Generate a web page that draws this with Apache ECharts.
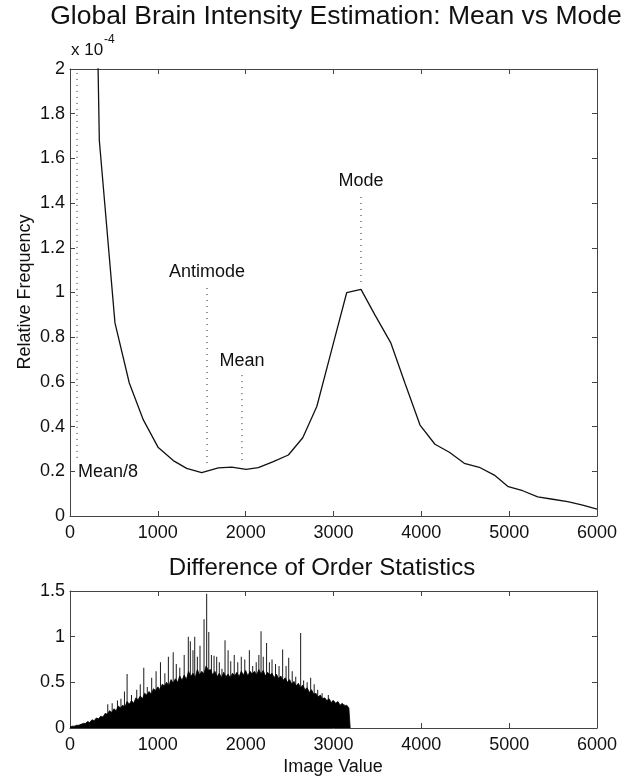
<!DOCTYPE html>
<html>
<head>
<meta charset="utf-8">
<script src="https://cdn.jsdelivr.net/npm/echarts@6/dist/echarts.min.js"></script>
<style>html,body{margin:0;padding:0;background:#fff}#c{width:631px;height:778px}</style>
</head>
<body>
<div id="c"></div>
<script>
// ---- Top panel: relative frequency (units of 1e-4) ----
const curveX = [165, 334, 512, 675, 835, 1005, 1176, 1328, 1499, 1689, 1841, 2004, 2144, 2315, 2486, 2650, 2810, 2979, 3150, 3313, 3473, 3651, 3814, 3985, 4155, 4319, 4489, 4660, 4831, 4990, 5154, 5325, 5495, 5666, 5837, 6000];
const curveY = [5.5, 1.68, 0.864, 0.595, 0.43, 0.306, 0.248, 0.213, 0.194, 0.215, 0.219, 0.209, 0.216, 0.243, 0.273, 0.35, 0.49, 0.743, 0.999, 1.014, 0.899, 0.776, 0.594, 0.407, 0.321, 0.285, 0.236, 0.218, 0.183, 0.131, 0.113, 0.086, 0.075, 0.064, 0.049, 0.031];

// Markers (dotted lines with labels)
const markerNames = ['Mean/8', 'Antimode', 'Mean', 'Mode'];
const markerX = [80, 1560, 1958, 3313];
const markerTop = [2.0, 1.04, 0.64, 1.445];
const markerBottom = [0.26, 0.237, 0.25, 1.047];
const markerLabelY = [0.197, 1.04, 0.64, 1.445];

// ---- Bottom panel: difference of order statistics ----
const histStep = 25;
const histBase = [
  0.01, 0.02, 0.02, 0.03,  0.03, 0.04, 0.05, 0.05,  0.07, 0.06, 0.09, 0.08,  0.11, 0.10, 0.13, 0.12,
  0.16, 0.15, 0.19, 0.17,  0.21, 0.19, 0.24, 0.22,  0.25, 0.23, 0.29, 0.26,  0.30, 0.27, 0.33, 0.31,
  0.35, 0.32, 0.38, 0.36,  0.40, 0.37, 0.43, 0.41,  0.45, 0.42, 0.48, 0.46,  0.50, 0.46, 0.53, 0.49,
  0.54, 0.50, 0.57, 0.52,  0.58, 0.53, 0.62, 0.56,  0.60, 0.55, 0.64, 0.58,  0.62, 0.59, 0.68, 0.63,
  0.64, 0.58, 0.62, 0.56,  0.60, 0.55, 0.61, 0.56,  0.59, 0.55, 0.60, 0.57,  0.61, 0.56, 0.62, 0.58,
  0.63, 0.57, 0.62, 0.59,  0.62, 0.58, 0.64, 0.59,  0.63, 0.57, 0.61, 0.58,  0.60, 0.55, 0.59, 0.54,
  0.57, 0.52, 0.55, 0.50,  0.53, 0.48, 0.51, 0.46,  0.49, 0.44, 0.47, 0.42,  0.44, 0.39, 0.42, 0.37,
  0.38, 0.34, 0.36, 0.32,  0.33, 0.30, 0.32, 0.28,  0.30, 0.27, 0.29, 0.25,  0.27, 0.24, 0.25, 0.22
];
const histEndX = 3190;
const spikeX = [430, 480, 540, 580, 620, 650, 700, 760, 800, 840, 880, 930, 980, 1030, 1080, 1120, 1175, 1210, 1250, 1300, 1347, 1370, 1400, 1420, 1450, 1480, 1526, 1556, 1580, 1610, 1640, 1670, 1700, 1730, 1765, 1800, 1830, 1870, 1910, 1950, 1990, 2042, 2080, 2120, 2150, 2175, 2200, 2238, 2270, 2300, 2340, 2380, 2421, 2460, 2490, 2530, 2570, 2626, 2660, 2700, 2740, 2780, 2820, 2870, 2941, 2990, 3050, 3120];
const spikeY = [0.26, 0.27, 0.30, 0.32, 0.40, 0.59, 0.36, 0.42, 0.48, 0.66, 0.45, 0.55, 0.62, 0.72, 0.60, 0.78, 0.83, 0.70, 0.66, 0.80, 1.00, 0.95, 0.85, 1.00, 0.78, 0.90, 1.19, 1.47, 1.05, 0.80, 0.79, 0.78, 0.72, 0.65, 0.96, 0.85, 0.73, 0.80, 0.72, 0.78, 0.75, 0.85, 0.68, 0.72, 0.80, 1.06, 0.78, 0.93, 0.72, 0.75, 0.70, 0.68, 0.86, 0.68, 0.77, 0.62, 0.56, 1.04, 0.52, 0.50, 0.55, 0.48, 0.42, 0.38, 0.36, 0.30, 0.28, 0.26];

const FONT = 'Liberation Sans, Arial, Helvetica, sans-serif';
const AX = '#444';
const TXT = '#111';

const curveData = curveX.map((x, i) => [x, curveY[i]]);
const histData = histBase.map((v, i) => [i * histStep, v]);
histData.push([histEndX, histBase[histBase.length - 1]]);
histData.push([histEndX, 0]);
const spikeData = spikeX.map((x, i) => [x, spikeY[i]]);

function xAxisDef(grid, pos, labels) {
  return {
    type: 'value', gridIndex: grid, position: pos, min: 0, max: 6000, interval: 1000,
    axisLine: { show: true, onZero: false, lineStyle: { color: AX, width: 1 } },
    axisTick: { show: true, inside: true, length: 5, lineStyle: { color: AX } },
    axisLabel: { show: labels, color: TXT, fontSize: 18, fontFamily: FONT, margin: 8, formatter: v => String(v) },
    splitLine: { show: false }
  };
}
function yAxisDef(grid, pos, labels, max, interval) {
  return {
    type: 'value', gridIndex: grid, position: pos, min: 0, max: max, interval: interval,
    axisLine: { show: true, onZero: false, lineStyle: { color: AX, width: 1 } },
    axisTick: { show: true, inside: true, length: 5, lineStyle: { color: AX } },
    axisLabel: { show: labels, color: TXT, fontSize: 18, fontFamily: FONT, margin: 5, formatter: v => String(+v.toFixed(2)) },
    splitLine: { show: false }
  };
}

const markerSeries = markerNames.map((name, i) => ({
  type: 'line', name: name, xAxisIndex: 0, yAxisIndex: 0, symbol: 'none', silent: true,
  data: [[markerX[i], markerBottom[i]], [markerX[i], markerTop[i]]],
  lineStyle: { color: '#222', width: 1, type: [1, 5] }
}));

const staticGraphics = [
  { type: 'text', x: 336, y: 17, style: { text: 'Global Brain Intensity Estimation: Mean vs Mode', font: '26.5px ' + FONT, fill: TXT, textAlign: 'center', textVerticalAlign: 'middle' } },
  { type: 'text', x: 71, y: 50, style: { text: 'x 10', font: '17px ' + FONT, fill: TXT, textAlign: 'left', textVerticalAlign: 'middle' } },
  { type: 'text', x: 104, y: 40, style: { text: '-4', font: '12px ' + FONT, fill: TXT, textAlign: 'left', textVerticalAlign: 'middle' } },
  { type: 'text', x: 25, y: 292, rotation: Math.PI / 2, style: { text: 'Relative Frequency', font: '18px ' + FONT, fill: TXT, textAlign: 'center', textVerticalAlign: 'middle' } },
  { type: 'text', x: 322, y: 568, style: { text: 'Difference of Order Statistics', font: '24px ' + FONT, fill: TXT, textAlign: 'center', textVerticalAlign: 'middle' } },
  { type: 'text', x: 333, y: 767, style: { text: 'Image Value', font: '18px ' + FONT, fill: TXT, textAlign: 'center', textVerticalAlign: 'middle' } }
];

const option = {
  animation: false,
  backgroundColor: '#fff',
  grid: [
    { left: 70, top: 69, width: 527, height: 447 },
    { left: 70, top: 591, width: 527, height: 137 }
  ],
  xAxis: [xAxisDef(0, 'bottom', true), xAxisDef(0, 'top', false), xAxisDef(1, 'bottom', true), xAxisDef(1, 'top', false)],
  yAxis: [yAxisDef(0, 'left', true, 2, 0.2), yAxisDef(0, 'right', false, 2, 0.2), yAxisDef(1, 'left', true, 1.5, 0.5), yAxisDef(1, 'right', false, 1.5, 0.5)],
  series: [
    {
      type: 'line', xAxisIndex: 0, yAxisIndex: 0, data: curveData, symbol: 'none', clip: true,
      lineStyle: { color: '#111', width: 1.3 }
    },
    ...markerSeries,
    {
      type: 'line', xAxisIndex: 2, yAxisIndex: 2, data: histData, symbol: 'none', clip: true,
      lineStyle: { color: '#000', width: 0.8 },
      areaStyle: { color: '#000', opacity: 1, origin: 'start' }
    },
    {
      type: 'bar', xAxisIndex: 2, yAxisIndex: 2, data: spikeData, barWidth: 1,
      itemStyle: { color: '#1a1a1a' }
    }
  ],
  graphic: staticGraphics
};

const chart = echarts.init(document.getElementById('c'), null, { renderer: 'canvas' });
chart.setOption(option);

// Marker labels placed through the chart's own scales
const labelGraphics = markerNames.map((n, i) => {
  const p = chart.convertToPixel({ xAxisIndex: 0, yAxisIndex: 0 }, [markerX[i], markerLabelY[i]]);
  if (i === 0) {
    return { type: 'text', x: p[0] + 1, y: p[1], style: { text: n, font: '18px ' + FONT, fill: TXT, textAlign: 'left', textVerticalAlign: 'middle' } };
  }
  return { type: 'text', x: p[0], y: p[1] - 3, style: { text: n, font: '18px ' + FONT, fill: TXT, textAlign: 'center', textVerticalAlign: 'bottom' } };
});
chart.setOption({ graphic: staticGraphics.concat(labelGraphics) });
</script>
</body>
</html>
